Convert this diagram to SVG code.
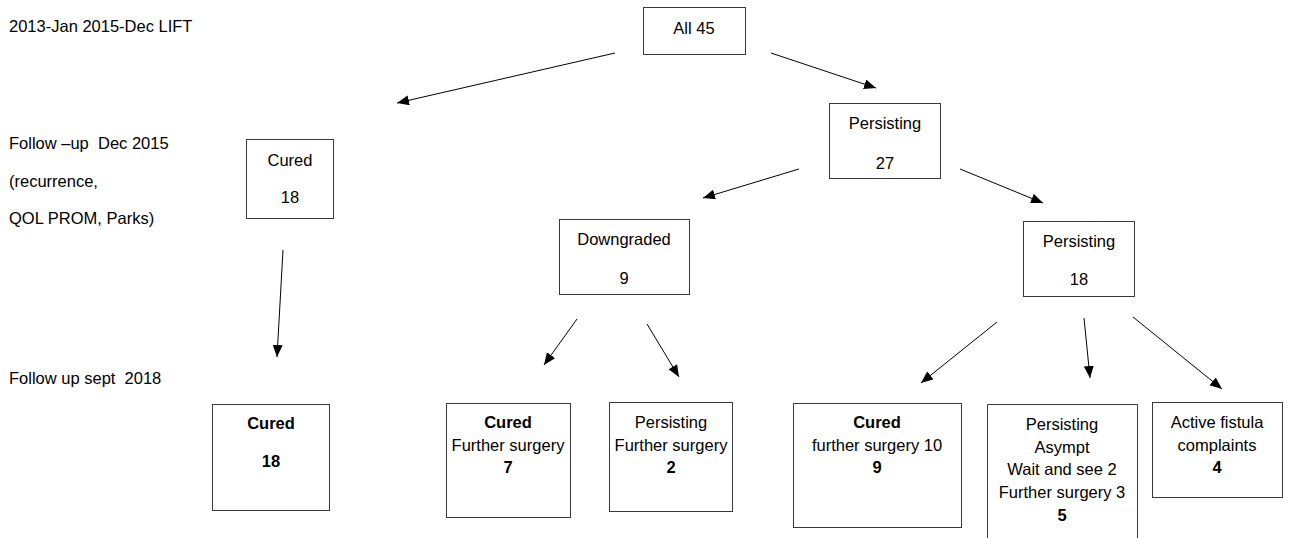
<svg xmlns="http://www.w3.org/2000/svg" width="1312" height="538" viewBox="0 0 1312 538">
<style>
text{font-family:"Liberation Sans",Arial,sans-serif;font-size:16.5px;fill:#000}
.c{text-anchor:middle}
.b{font-weight:bold}
.box{fill:#fff;stroke:#3a3a3a;stroke-width:1}
.conn line{stroke:#000;stroke-width:1;marker-end:url(#ah)}
</style>
<defs>
<marker id="ah" markerUnits="userSpaceOnUse" markerWidth="14" markerHeight="12" refX="12" refY="5" orient="auto">
<path d="M0,0 L12,5 L0,10 Z" fill="#000"/>
</marker>
</defs>
<rect width="1312" height="538" fill="#fff"/>
<g id="labels">
<text x="9" y="32">2013-Jan 2015-Dec LIFT</text>
<text x="9" y="149" xml:space="preserve">Follow –up  Dec 2015</text>
<text x="9" y="187">(recurrence,</text>
<text x="9" y="224">QOL PROM, Parks)</text>
<text x="9" y="384" xml:space="preserve">Follow up sept  2018</text>
</g>
<g class="conn" id="connectors">
<line x1="615" y1="53" x2="397" y2="103"/>
<line x1="771" y1="53" x2="876" y2="88"/>
<line x1="283" y1="250" x2="277" y2="357"/>
<line x1="799" y1="169" x2="703" y2="198"/>
<line x1="960" y1="169" x2="1043" y2="203"/>
<line x1="577" y1="319" x2="544" y2="365"/>
<line x1="647" y1="324" x2="679" y2="377"/>
<line x1="997" y1="322" x2="921" y2="383"/>
<line x1="1084" y1="318" x2="1090" y2="378"/>
<line x1="1133" y1="317" x2="1222" y2="389"/>
</g>
<g id="all45">
<rect class="box" x="643.5" y="7.5" width="102" height="47"/>
<text class="c" x="694" y="34">All 45</text>
</g>
<g id="persisting27">
<rect class="box" x="829.5" y="103.5" width="111" height="75"/>
<text class="c" x="885" y="129">Persisting</text>
<text class="c" x="885" y="169">27</text>
</g>
<g id="cured18a">
<rect class="box" x="246.5" y="139.5" width="87" height="79"/>
<text class="c" x="290" y="166">Cured</text>
<text class="c" x="290" y="203">18</text>
</g>
<g id="downgraded9">
<rect class="box" x="559.5" y="219.5" width="130" height="75"/>
<text class="c" x="624" y="245">Downgraded</text>
<text class="c" x="624" y="284">9</text>
</g>
<g id="persisting18">
<rect class="box" x="1023.5" y="221.5" width="111" height="75"/>
<text class="c" x="1079" y="247">Persisting</text>
<text class="c" x="1079" y="285">18</text>
</g>
<g id="cured18b">
<rect class="box" x="212.5" y="404.5" width="117" height="106"/>
<text class="c b" x="271" y="429">Cured</text>
<text class="c b" x="271" y="467">18</text>
</g>
<g id="cured7">
<rect class="box" x="446.5" y="403.5" width="124" height="114"/>
<text class="c b" x="508" y="428">Cured</text>
<text class="c" x="508" y="451">Further surgery</text>
<text class="c b" x="508" y="473">7</text>
</g>
<g id="persisting2">
<rect class="box" x="609.5" y="402.5" width="123" height="109"/>
<text class="c" x="671" y="428">Persisting</text>
<text class="c" x="671" y="451">Further surgery</text>
<text class="c b" x="671" y="473">2</text>
</g>
<g id="cured9">
<rect class="box" x="793.5" y="403.5" width="168" height="124"/>
<text class="c b" x="877" y="428">Cured</text>
<text class="c" x="877" y="451">further surgery 10</text>
<text class="c b" x="877" y="473">9</text>
</g>
<g id="persisting5">
<path d="M987.5,538 V404.5 H1137.5 V538" fill="#fff" stroke="#3a3a3a" stroke-width="1"/>
<text class="c" x="1062" y="430">Persisting</text>
<text class="c" x="1062" y="453">Asympt</text>
<text class="c" x="1062" y="475">Wait and see 2</text>
<text class="c" x="1062" y="498">Further surgery 3</text>
<text class="c b" x="1062" y="521">5</text>
</g>
<g id="active4">
<rect class="box" x="1152.5" y="402.5" width="130" height="95"/>
<text class="c" x="1217" y="428">Active fistula</text>
<text class="c" x="1217" y="451">complaints</text>
<text class="c b" x="1217" y="473">4</text>
</g>
</svg>
